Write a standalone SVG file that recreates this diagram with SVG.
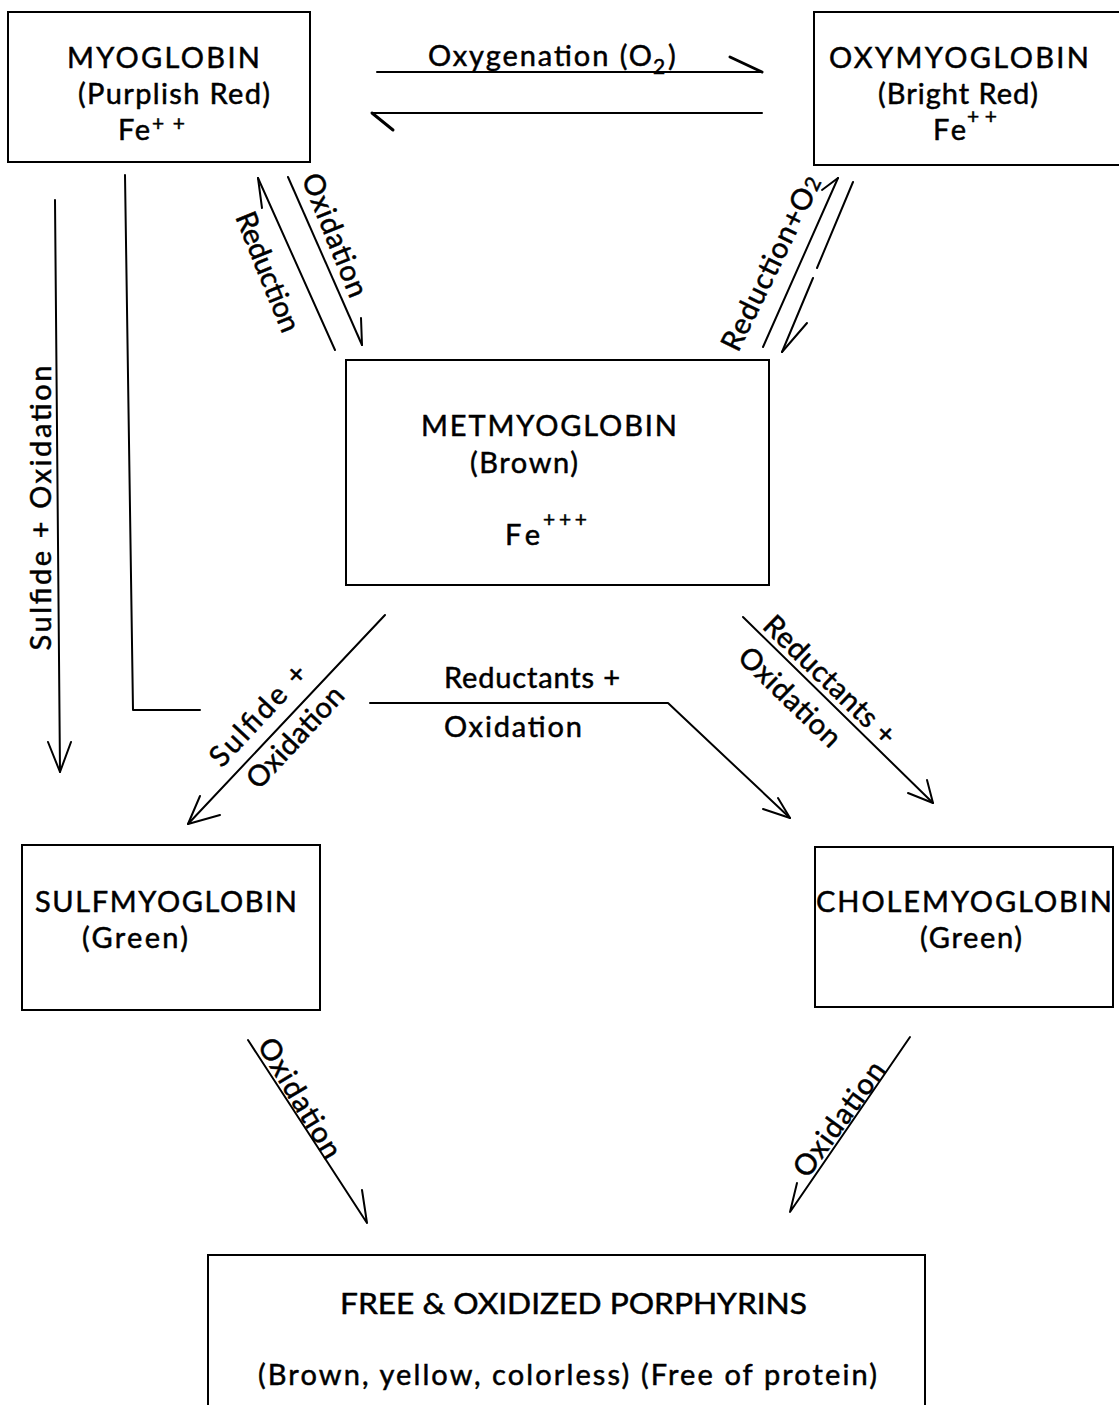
<svg xmlns="http://www.w3.org/2000/svg" width="1119" height="1405" viewBox="0 0 1119 1405">
<style>
.t{font-family:Lato,"Liberation Sans",sans-serif;font-size:29px;fill:#000;stroke:#000;stroke-width:0.5}
.s{font-size:21px}
.box{fill:none;stroke:#000;stroke-width:2}
.c{fill:none;stroke:#000;stroke-width:2;stroke-linecap:round;stroke-linejoin:round}
.h{fill:none;stroke:#000;stroke-width:3;stroke-linecap:round}
</style>
<rect width="1119" height="1405" fill="#fff"/>
<g id="myoglobin">
<rect class="box" x="8" y="12" width="302" height="150"/>
<text class="t" x="67" y="68" textLength="193">MYOGLOBIN</text>
<text class="t" x="78" y="104" textLength="192">(Purplish Red)</text>
<text class="t" x="118" y="140" textLength="32">Fe</text>
<text class="t s" x="152" y="131" textLength="33">++</text>
</g>
<g id="oxymyoglobin">
<path class="box" d="M1121,12 H814 V165 H1121"/>
<text class="t" x="829" y="68" textLength="260">OXYMYOGLOBIN</text>
<text class="t" x="878" y="104" textLength="160">(Bright Red)</text>
<text class="t" x="933" y="140" textLength="33">Fe</text>
<text class="t s" x="967" y="124" textLength="30">++</text>
</g>
<g id="metmyoglobin">
<rect class="box" x="346" y="360" width="423" height="225"/>
<text class="t" x="421" y="436" textLength="256">METMYOGLOBIN</text>
<text class="t" x="470" y="473" textLength="108">(Brown)</text>
<text class="t" x="505" y="545" textLength="35">Fe</text>
<text class="t s" x="543" y="527" textLength="44">+++</text>
</g>
<g id="sulfmyoglobin">
<rect class="box" x="22" y="845" width="298" height="165"/>
<text class="t" x="35" y="912" textLength="262">SULFMYOGLOBIN</text>
<text class="t" x="82" y="948" textLength="106">(Green)</text>
</g>
<g id="cholemyoglobin">
<rect class="box" x="815" y="847" width="298" height="160"/>
<text class="t" x="816" y="912" textLength="296">CHOLEMYOGLOBIN</text>
<text class="t" x="920" y="948" textLength="102">(Green)</text>
</g>
<g id="porphyrins">
<path class="box" d="M208,1407 V1255 H925 V1407"/>
<text class="t" x="340" y="1314" textLength="467" lengthAdjust="spacingAndGlyphs">FREE &amp; OXIDIZED PORPHYRINS</text>
<text class="t" x="258" y="1385" textLength="619">(Brown, yellow, colorless) (Free of protein)</text>
</g>
<g id="connectors">
<path class="c" d="M377,72 H762"/>
<path class="h" d="M730,57 L762,72"/>
<path class="c" d="M372,113 H762"/>
<path class="h" d="M372,113 L393,130"/>
<path class="c" d="M258,178 L335,350"/>
<path class="c" d="M258,178 L262,208"/>
<path class="c" d="M288,177 L362,345"/>
<path class="c" d="M362,345 L361,318"/>
<path class="c" d="M763,347 L838,178"/>
<path class="c" d="M838,178 L822,190"/>
<path class="c" d="M853,182 L817,268 M813,278 L782,352"/>
<path class="c" d="M782,352 L807,323"/>
<path class="c" d="M55,200 L60,772"/>
<path class="c" d="M48,742 L60,772 L71,742"/>
<path class="c" d="M125,175 L133,710 H200"/>
<path class="c" d="M385,615 L188,824"/>
<path class="c" d="M200,796 L188,824 L220,815"/>
<path class="c" d="M370,703 H668 L790,818"/>
<path class="c" d="M763,809 L790,818 L778,798"/>
<path class="c" d="M743,617 L933,803"/>
<path class="c" d="M908,793 L933,803 L927,780"/>
<path class="c" d="M248,1040 L367,1223 L362,1190"/>
<path class="c" d="M910,1037 L790,1212 L797,1183"/>
</g>
<g id="labels">
<text class="t" x="428" y="66" textLength="224">Oxygenation (O</text>
<text class="t s" x="653" y="74">2</text>
<text class="t" x="668" y="66">)</text>
<text class="t" transform="translate(335,235) rotate(68)" text-anchor="middle" y="10" textLength="131">Oxidation</text>
<text class="t" transform="translate(268,272) rotate(68)" text-anchor="middle" y="10" textLength="127">Reduction</text>
<text class="t" transform="translate(771,263) rotate(-64)" text-anchor="middle" y="10" textLength="191">Reduction+O<tspan class="s">2</tspan></text>
<text class="t" transform="translate(41,508) rotate(-90)" text-anchor="middle" y="10" textLength="285">Sulfide + Oxidation</text>
<text class="t" transform="translate(258,715) rotate(-47)" text-anchor="middle" y="10" textLength="128">Sulfide +</text>
<text class="t" transform="translate(295,737) rotate(-47)" text-anchor="middle" y="10" textLength="128">Oxidation</text>
<text class="t" x="444" y="688" textLength="176">Reductants +</text>
<text class="t" x="444" y="737" textLength="138">Oxidation</text>
<text class="t" transform="translate(830,680) rotate(44)" text-anchor="middle" y="10" textLength="172">Reductants +</text>
<text class="t" transform="translate(790,697) rotate(44)" text-anchor="middle" y="10" textLength="130">Oxidation</text>
<text class="t" transform="translate(300,1098) rotate(59)" text-anchor="middle" y="10" textLength="135">Oxidation</text>
<text class="t" transform="translate(839,1119) rotate(-54)" text-anchor="middle" y="10" textLength="135">Oxidation</text>
</g>
</svg>
